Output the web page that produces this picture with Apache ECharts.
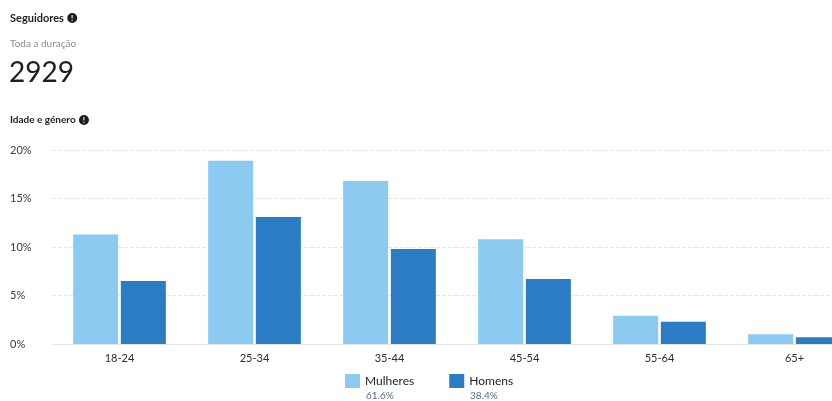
<!DOCTYPE html>
<html><head><meta charset="utf-8">
<script src="https://cdn.jsdelivr.net/npm/echarts@6/dist/echarts.min.js"></script>
<style>html,body{margin:0;padding:0;background:#fff;overflow:hidden}#c{width:870px;height:401px}</style>
</head><body><div id="c"></div>
<script>
const categories = ['18-24','25-34','35-44','45-54','55-64','65+'];
const mulheres = [11.3, 18.9, 16.8, 10.8, 2.9, 1.0];
const homens   = [6.5, 13.1, 9.8, 6.7, 2.3, 0.7];
const seriesNames = ['Mulheres','Homens'];
const seriesShares = ['61.6%','38.4%'];
const yTicks = [0,5,10,15,20];
const totalFollowers = '2929';

const FONT = 'Lato, "Open Sans", sans-serif';
const chart = echarts.init(document.getElementById('c'));
const infoRich = {
  t:{fontFamily:FONT,fontWeight:'bold',fontSize:11,fill:'#1c1e21'},
  i:{backgroundColor:'#1c1e21',fill:'#ffffff',borderRadius:5,width:10,height:10,lineHeight:10,align:'center',fontSize:8,fontWeight:'bold',fontFamily:FONT}
};
chart.setOption({
  animation:false,
  textStyle:{fontFamily:FONT},
  grid:{left:52,top:150,width:810,height:194,containLabel:false},
  legend:{left:340,top:369,itemWidth:15,itemHeight:14,itemGap:35,icon:'rect',
    textStyle:{fontSize:12,color:'#1c1e21',fontFamily:FONT,padding:[-1,0,0,0]},data:seriesNames},
  xAxis:{type:'category',data:categories,
    axisLine:{lineStyle:{color:'#e6e6e6'}},axisTick:{show:false},
    axisLabel:{color:'#2b2b2b',fontSize:11,margin:9,fontFamily:FONT}},
  yAxis:{type:'value',min:yTicks[0],max:yTicks[yTicks.length-1],interval:5,
    axisLabel:{formatter:'{value}%',align:'left',margin:42,color:'#3a3a3a',fontSize:11,fontFamily:FONT},
    splitLine:{lineStyle:{color:'#e6e6e6',type:'dashed'}}},
  series:[
    {name:seriesNames[0],type:'bar',data:mulheres,barWidth:45,barGap:'6%',itemStyle:{color:'#8DCAF2'}},
    {name:seriesNames[1],type:'bar',data:homens,barWidth:45,itemStyle:{color:'#2A7DC5'}}
  ],
  graphic:[
    {type:'text',left:10,top:12,style:{text:'{t|Seguidores} {i|!}',rich:infoRich}},
    {type:'text',left:10,top:39,style:{text:'Toda a duração',fontFamily:FONT,fontSize:10,fill:'#8a8d91'}},
    {type:'text',left:9,top:59,style:{text:totalFollowers,fontFamily:FONT,fontSize:28,fill:'#1c1e21'}},
    {type:'text',left:10,top:114,style:{text:'{t|Idade e género} {i|!}',rich:{t:Object.assign({},infoRich.t,{fontSize:10}),i:infoRich.i}}},
    {type:'text',left:366,top:391,style:{text:seriesShares[0],fontFamily:FONT,fontSize:10,fill:'#5b6b86'}},
    {type:'text',left:470,top:391,style:{text:seriesShares[1],fontFamily:FONT,fontSize:10,fill:'#5b6b86'}}
  ]
});
</script></body></html>
